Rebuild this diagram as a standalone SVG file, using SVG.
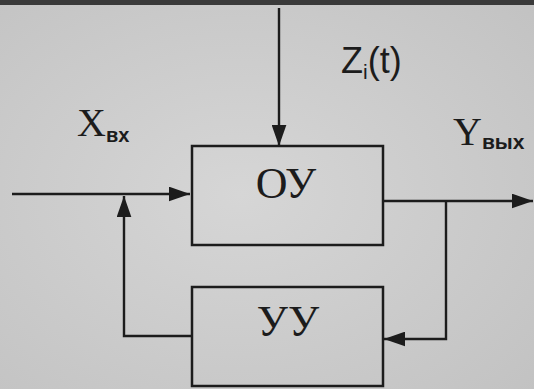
<svg xmlns="http://www.w3.org/2000/svg" width="534" height="389" viewBox="0 0 534 389">
<defs>
<radialGradient id="bg" cx="0.45" cy="0.5" r="0.75">
<stop offset="0" stop-color="#d6d6d6"/>
<stop offset="1" stop-color="#c2c2c2"/>
</radialGradient>
<marker id="ah" viewBox="0 0 20 14" refX="20" refY="7" markerWidth="21" markerHeight="15" markerUnits="userSpaceOnUse" orient="auto">
<path d="M0,0 L20,7 L0,14 Z" fill="#1c1c1c"/>
</marker>
<style>
.ln{fill:none;stroke:#1c1c1c;stroke-width:2.4}
.box{fill:none;stroke:#1c1c1c;stroke-width:2.5}
.t{font-family:"Liberation Serif","Times New Roman",serif;fill:#1c1c1c}
.s{font-family:"Liberation Sans",Arial,sans-serif;fill:#1c1c1c}
</style>
</defs>
<rect width="534" height="389" fill="url(#bg)"/>
<rect width="534" height="5" fill="#3a3a3a"/>
<g id="connectors">
<path class="ln" d="M279,8 V146" marker-end="url(#ah)"/>
<path class="ln" d="M12,194 H190" marker-end="url(#ah)"/>
<path class="ln" d="M192,336 H124 V196" marker-end="url(#ah)"/>
<path class="ln" d="M383,201 H533" marker-end="url(#ah)"/>
<path class="ln" d="M446,201 V339 H384" marker-end="url(#ah)"/>
</g>
<g id="ou">
<rect class="box" x="192" y="146" width="191" height="99"/>
<text class="t" x="286" y="198" font-size="44" text-anchor="middle">ОУ</text>
</g>
<g id="uu">
<rect class="box" x="192" y="287" width="191" height="99"/>
<text class="t" x="288" y="336" font-size="44" text-anchor="middle">УУ</text>
</g>
<g id="labels">
<text class="s" x="341" y="73" font-size="36">Z<tspan font-size="21" dy="6">i</tspan><tspan dy="-6">(t)</tspan></text>
<text class="t" x="77" y="136" font-size="40">X<tspan class="s" font-size="20" font-weight="bold" dy="6">вх</tspan></text>
<text class="t" x="453" y="145" font-size="40">Y<tspan class="s" font-size="21" font-weight="bold" dy="4">вых</tspan></text>
</g>
</svg>
